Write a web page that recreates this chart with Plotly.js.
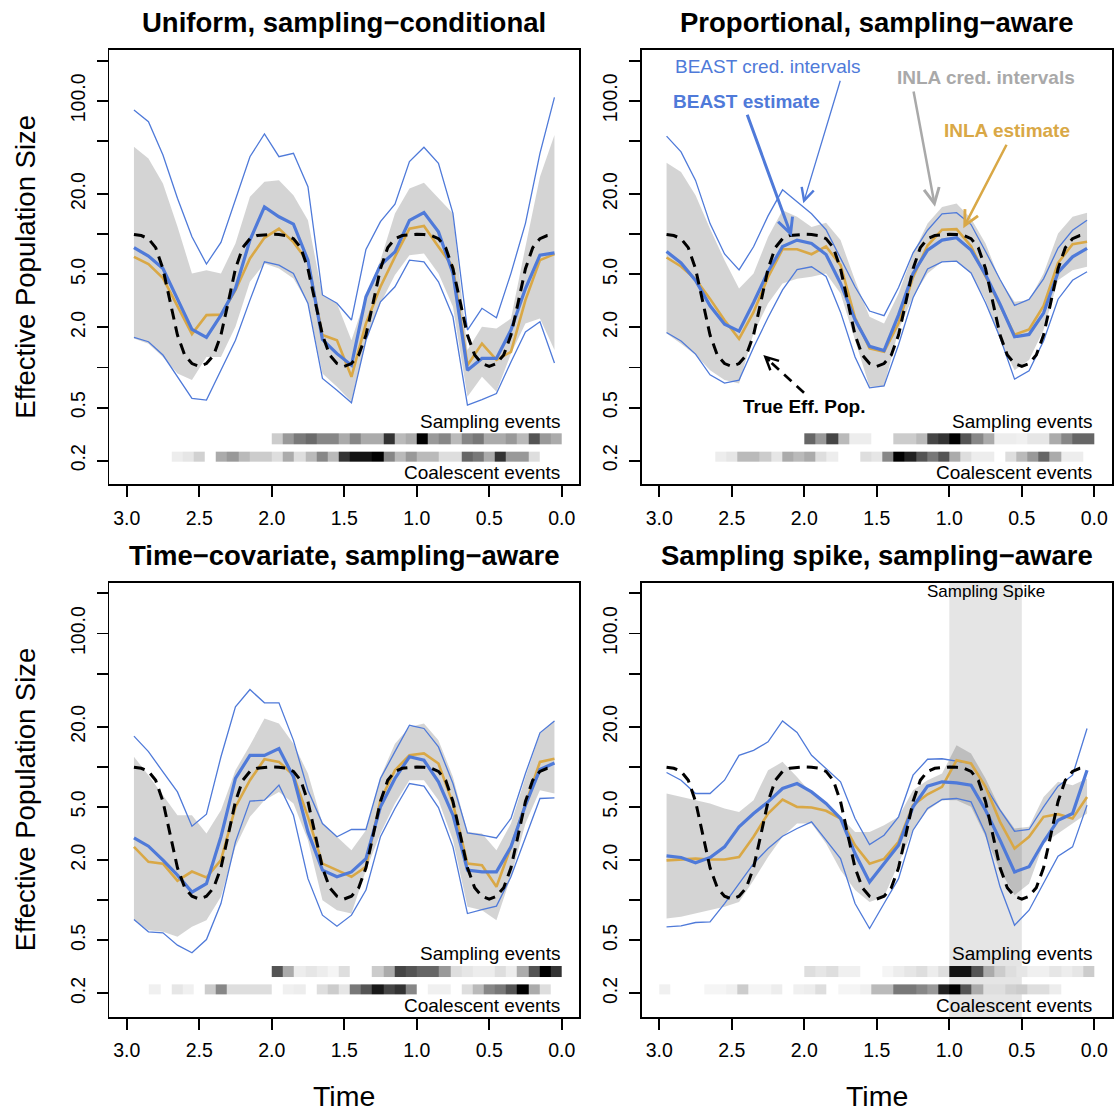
<!DOCTYPE html>
<html><head><meta charset="utf-8">
<script src="https://cdn.plot.ly/plotly-3.0.1.min.js"></script>
<style>html,body{margin:0;padding:0;background:#fff;} #chart{width:1114px;height:1111px;}</style>
</head><body><div id="chart"></div>
<script>
// ---------------- DATA ----------------
const tGrid = [2.95,2.85,2.75,2.65,2.55,2.45,2.35,2.25,2.15,2.05,1.95,1.85,1.75,1.65,1.55,1.45,1.35,1.25,1.15,1.05,0.95,0.85,0.75,0.65,0.55,0.45,0.35,0.25,0.15,0.05];

const tTrue = [2.95,2.9,2.85,2.8,2.75,2.7,2.65,2.6,2.55,2.5,2.45,2.4,2.35,2.3,2.25,2.2,2.15,2.1,2.05,2.0,
               1.95,1.9,1.85,1.8,1.75,1.7,1.65,1.6,1.55,1.5,1.45,1.4,1.35,1.3,1.25,1.2,1.15,1.1,1.05,1.0,
               0.95,0.9,0.85,0.8,0.75,0.7,0.65,0.6,0.55,0.5,0.45,0.4,0.35,0.3,0.25,0.2,0.15,0.1,0.05];
const trueNe = [9.93,9.76,9.25,7.92,5.5,3.08,1.75,1.24,1.07,1.02,1.07,1.24,1.75,3.08,5.5,7.92,9.25,9.76,9.93,9.98,
                9.93,9.76,9.25,7.92,5.5,3.08,1.75,1.24,1.07,1.02,1.07,1.24,1.75,3.08,5.5,7.92,9.25,9.76,9.93,9.98,
                9.93,9.76,9.25,7.92,5.5,3.08,1.75,1.24,1.07,1.02,1.07,1.24,1.75,3.08,5.5,7.92,9.25,9.76,9.93];

// event-density strip cells (edges, then one value per cell, null = no events)
const cellEdges = [3.0,2.923,2.846,2.769,2.692,2.615,2.538,2.462,2.385,2.308,2.231,2.154,2.077,2.0,1.923,1.846,1.769,1.692,1.615,1.538,
                   1.462,1.385,1.308,1.231,1.154,1.077,1.0,0.923,0.846,0.769,0.692,0.615,0.538,0.462,0.385,0.308,0.231,0.154,0.077,0.0];

// Panel 1: Uniform, sampling-conditional
const p1BeastHi  = [85.3,69.7,39.2,18.6,9.57,5.97,8.68,18.0,38.1,56.4,38.1,40.4,22.7,3.50,3.03,2.27,7.69,12.4,16.8,35.0,44.8,34.0,14.3,1.91,2.78,2.36,5.08,12.05,40.4,106];
const p1BeastLo  = [1.68,1.56,1.24,0.851,0.586,0.569,0.955,1.60,3.20,6.20,5.85,5.07,3.02,0.827,0.676,0.543,1.60,3.11,4.03,6.38,6.20,4.39,2.40,0.522,0.575,0.638,1.10,1.85,2.20,1.08];
const p1BeastMed = [7.94,6.84,5.53,3.29,1.93,1.68,2.47,3.91,9.02,16.0,13.5,11.9,6.38,1.62,1.27,1.04,3.39,5.85,7.37,12.7,14.5,10.4,5.07,0.955,1.17,1.17,1.91,3.91,6.96,7.24];
const p1InlaMed  = [6.76,5.96,4.68,2.85,1.78,2.47,2.49,3.8,6.57,9.39,11.0,8.71,6.2,1.75,1.60,0.851,2.14,4.03,6.76,11.0,11.5,8.04,5.69,1.04,1.51,1.14,1.31,3.20,6.38,7.08];
const p1InlaHi   = [45.2,36.9,24.0,11.4,5.07,5.37,5.07,8.51,19.1,24.7,25.4,19.6,12.7,3.48,3.02,1.60,3.39,6.38,14.3,22.0,24.3,18.5,14.3,1.35,2.02,1.96,2.33,8.04,26.9,55.3];
const p1InlaLo   = [1.65,1.51,1.20,0.902,0.804,1.20,1.20,2.02,4.39,6.03,5.53,4.64,3.02,0.902,0.716,0.553,1.60,3.02,4.93,6.96,7.16,5.07,2.85,0.603,0.851,0.657,1.27,2.14,2.33,1.35];
const p1Samp = [null,null,null,null,null,null,null,null,null,null,null,null,null,
  0.2,0.4,0.52,0.58,0.47,0.47,0.33,0.47,0.33,0.33,0.8,0.27,0.33,1.0,0.4,0.47,0.27,0.47,0.53,0.33,0.33,0.4,0.27,0.67,0.4,0.33];
const p1Coal = [null,null,null,null,
  0.07,0.1,0.18,null,0.33,0.4,0.27,0.2,0.2,0.13,0.33,0.13,0.27,0.47,0.27,0.8,0.93,0.93,1.0,0.47,0.27,0.4,0.27,0.27,0.13,0.13,0.6,0.53,0.33,0.8,0.4,0.4,0.13,
  null,null];

// Panel 2: Proportional, sampling-aware
const p2BeastHi  = [54.3,41.4,25.3,12.0,7.10,5.40,8.04,13.7,21.5,17.6,14.2,10.8,6.6,4.03,2.65,2.45,3.98,7.24,10.7,14.2,14.5,11.8,7.41,4.57,2.92,3.24,4.62,7.86,10.7,12.7];
const p2BeastLo  = [1.83,1.58,1.26,0.881,0.763,0.804,1.41,2.37,3.82,5.43,5.69,4.82,2.60,1.20,0.704,0.728,1.48,3.33,5.49,6.20,6.27,5.11,3.06,1.68,0.818,0.944,1.58,3.25,4.51,5.22];
const p2BeastMed = [7.4,6.09,4.49,2.90,2.11,1.87,3.07,5.24,8.09,9.02,8.51,7.04,4.27,2.28,1.44,1.34,2.48,5.07,7.59,9.02,9.39,7.59,4.95,2.98,1.70,1.77,2.56,5.16,6.76,7.82];
const p2InlaMed  = [6.68,5.72,4.59,3.27,2.26,1.64,2.60,4.76,7.71,7.71,7.07,8.09,5.85,2.36,1.39,1.31,2.15,4.76,8.22,10.8,10.9,8.13,4.81,2.87,1.76,1.93,2.90,6.09,8.40,8.76];
const p2InlaHi   = [34.3,29.3,19.6,11.0,6.38,3.91,5.07,9.50,15.1,13.5,11.3,12.2,9.02,4.51,2.40,2.14,3.59,7.16,12.0,16.0,17.0,13.1,8.51,4.51,3.11,3.20,5.07,10.1,13.5,14.5];
const p2InlaLo   = [1.80,1.51,1.24,0.955,0.804,0.759,1.80,3.02,4.27,4.62,4.79,5.07,3.59,1.60,0.716,0.716,1.91,3.39,5.07,6.20,6.20,5.07,3.20,1.60,0.955,1.14,1.91,4.51,5.37,5.69];
const p2Samp = [null,null,null,null,null,null,null,null,null,null,null,null,null,
  0.6,0.4,0.73,0.27,0.07,0.07,null,null,0.2,0.2,0.27,0.73,0.8,1.0,0.67,0.47,0.33,0.07,0.07,0.06,0.1,0.1,0.33,0.47,0.6,0.6];
const p2Coal = [null,null,null,null,null,
  0.07,0.1,0.27,0.27,0.2,0.1,0.33,0.27,0.33,0.13,0.07,null,null,0.13,0.1,0.47,1.0,0.87,0.67,0.53,0.67,0.33,0.13,0.07,0.07,null,0.13,0.27,0.4,0.6,0.33,0.07,0.07,
  null];

// Panel 3: Time-covariate, sampling-aware
const p3BeastHi  = [17.0,13.0,9.17,6.49,3.59,4.42,11.9,28.2,38.0,30.2,30.2,15.8,6.68,3.76,2.99,3.39,3.39,8.18,13.0,20.5,19.4,14.1,7.50,3.20,3.07,2.93,4.10,8.91,18.0,22.1];
const p3BeastLo  = [0.716,0.579,0.569,0.460,0.403,0.507,0.944,2.74,5.53,5.62,7.29,4.34,1.45,0.772,0.638,0.772,1.19,2.99,4.87,7.50,7.16,4.95,2.51,0.794,0.851,0.902,1.50,2.99,5.79,5.85];
const p3BeastMed = [2.93,2.54,2.0,1.54,1.15,1.33,2.99,8.18,12.2,12.2,13.7,8.41,3.25,1.68,1.50,1.63,2.05,5.01,8.18,11.9,11.2,7.72,4.34,1.68,1.63,1.63,2.51,5.16,9.55,10.7];
const p3InlaMed  = [2.51,1.94,1.88,1.40,1.64,1.48,2.0,5.0,7.94,11.4,10.9,8.66,4.22,1.88,1.68,1.50,1.78,5.62,9.44,12.2,12.6,10.6,5.30,1.88,1.83,1.26,2.51,5.30,10.9,11.5];
const p3InlaHi   = [11.9,8.66,6.13,4.34,4.34,3.16,4.73,9.44,14.5,23.0,21.1,14.9,8.91,3.76,2.99,2.37,3.35,8.41,14.9,19.9,21.1,15.8,8.41,3.25,3.16,2.37,3.76,8.41,17.8,22.4];
const p3InlaLo   = [0.708,0.596,0.579,0.531,0.631,0.708,1.06,2.51,4.22,5.62,6.49,5.30,2.82,1.0,0.841,0.794,1.68,3.16,5.30,7.94,7.94,5.62,2.82,0.891,0.841,0.708,1.50,3.76,6.68,6.31];
const p3Samp = [null,null,null,null,null,null,null,null,null,null,null,null,null,
  0.67,0.33,0.07,0.1,0.07,0.04,0.13,null,null,0.2,0.33,0.73,0.67,0.6,0.6,0.4,0.13,0.1,0.07,0.07,0.13,0.07,0.33,0.67,1.0,0.8];
const p3Coal = [null,null,
  0.06,null,0.1,0.06,null,0.2,0.47,0.13,0.13,0.13,0.13,null,0.06,0.07,null,0.13,0.2,0.1,0.53,0.67,0.9,0.73,0.8,0.47,null,0.06,0.06,null,0.13,0.27,0.47,0.53,0.67,1.0,0.33,0.13,
  null];

// Panel 4: Sampling spike, sampling-aware
const p4BeastHi  = [9.07,7.94,6.31,6.31,7.94,12.2,13.3,15.4,22.1,18.1,12.2,9.72,7.72,4.10,2.61,3.07,4.22,8.66,11.4,11.5,11.1,10.6,7.08,4.73,3.29,3.39,5.01,7.16,8.66,19.4];
const p4BeastLo  = [0.631,0.642,0.680,0.688,0.944,1.33,1.88,2.44,3.02,3.45,3.87,2.82,2.05,0.944,0.613,0.944,1.45,3.35,4.87,5.69,5.79,5.46,3.16,1.26,0.649,0.841,1.33,2.14,2.51,5.16];
const p4BeastMed = [2.15,2.09,1.91,2.09,2.51,3.55,4.47,5.46,6.88,7.50,6.49,5.31,4.10,2.24,1.37,1.88,2.58,5.01,7.16,7.72,7.58,7.29,4.73,2.82,1.63,1.78,2.74,3.98,4.47,9.44];
const p4InlaMed  = [1.99,2.02,2.05,2.02,2.02,2.11,2.99,4.47,5.69,5.01,4.95,4.68,4.10,2.58,1.88,2.04,2.74,5.16,6.23,7.08,11.2,10.6,7.08,3.87,2.44,2.99,4.22,4.42,4.10,5.95];
const p4InlaHi   = [6.31,5.95,5.62,5.30,4.87,4.59,5.62,9.44,10.9,8.41,6.31,5.30,4.22,3.25,3.25,3.65,4.22,6.68,7.94,8.91,14.5,12.6,8.18,4.87,3.45,3.55,5.95,7.72,7.29,8.18];
const p4InlaLo   = [0.729,0.750,0.794,0.841,0.891,0.971,1.41,2.11,2.99,3.76,3.76,2.66,1.68,1.19,0.971,1.06,1.88,3.35,4.73,5.62,5.62,5.01,2.99,1.68,1.09,1.33,2.66,3.16,3.76,4.47];
const p4Samp = [null,null,null,null,null,null,null,null,null,null,null,null,null,
  0.13,0.1,0.13,0.06,0.06,null,null,0.04,0.07,0.1,0.13,0.07,0.13,0.93,0.93,0.67,0.33,0.2,0.13,0.1,0.06,0.06,0.1,0.07,0.1,0.2];
const p4Coal = [0.06,null,null,null,0.04,0.04,0.06,0.2,0.04,0.04,0.07,null,0.06,0.07,0.13,null,0.04,0.04,0.06,0.27,0.27,0.53,0.53,0.47,0.4,0.87,1.0,0.67,0.33,0.13,0.13,0.18,0.2,0.13,0.13,0.07,
  null,null,null];

const panelTitles = ['Uniform, sampling\u2212conditional','Proportional, sampling\u2212aware','Time\u2212covariate, sampling\u2212aware','Sampling spike, sampling\u2212aware'];
const xTickVals = [3,2.5,2,1.5,1,0.5,0];
const xTickText = ['3.0','2.5','2.0','1.5','1.0','0.5','0.0'];
const yTickVals = [0.2,0.5,1,2,5,10,20,50,100,200];
const yTickText = ['0.2','0.5','','2.0','5.0','','20.0','','100.0',''];
const spikeStart = 1.0, spikeEnd = 0.5;

// ---------------- STYLE / LAYOUT ----------------
const FONT = '"Liberation Sans", Arial, Helvetica, sans-serif';
const W = 1114, H = 1111;
const BLUE = '#4f7ad9', GOLD = '#d9a846', BAND = 'rgba(0,0,0,0.17)', GREYTXT = '#a9a9a9';
const boxes = [
  {x0:109.3, x1:579.1, y0:50,    y1:484.3},
  {x0:641.9, x1:1111.7, y0:50,   y1:484.3},
  {x0:109.3, x1:579.1, y0:582.7, y1:1017.0},
  {x0:641.9, x1:1111.7, y0:582.7, y1:1017.0}];
const px = v => v / W, py = v => 1 - v / H;

const panels = [
  {hi:p1BeastHi, lo:p1BeastLo, med:p1BeastMed, im:p1InlaMed, ih:p1InlaHi, il:p1InlaLo, samp:p1Samp, coal:p1Coal},
  {hi:p2BeastHi, lo:p2BeastLo, med:p2BeastMed, im:p2InlaMed, ih:p2InlaHi, il:p2InlaLo, samp:p2Samp, coal:p2Coal},
  {hi:p3BeastHi, lo:p3BeastLo, med:p3BeastMed, im:p3InlaMed, ih:p3InlaHi, il:p3InlaLo, samp:p3Samp, coal:p3Coal},
  {hi:p4BeastHi, lo:p4BeastLo, med:p4BeastMed, im:p4InlaMed, ih:p4InlaHi, il:p4InlaLo, samp:p4Samp, coal:p4Coal}];

const traces = [];
const layout = {
  width: W, height: H, margin: {l:0, r:0, t:0, b:0},
  paper_bgcolor: '#fff', plot_bgcolor: 'rgba(0,0,0,0)',
  showlegend: false, font: {family: FONT, color: '#000'},
  annotations: [], shapes: []
};

const gray = [[0,'#ffffff'],[1,'#000000']];
panels.forEach((d, k) => {
  const i = k + 1;
  const xa = i === 1 ? 'x' : 'x' + i;
  const ya = i === 1 ? 'y' : 'y' + i;
  const yo = 'y' + (i + 4);
  const b = boxes[k];
  const common = {xaxis: xa, yaxis: ya, mode: 'lines', hoverinfo: 'skip'};

  traces.push(Object.assign({}, common, {
    x: tGrid.concat(tGrid.slice().reverse()),
    y: d.ih.concat(d.il.slice().reverse()),
    fill: 'toself', fillcolor: BAND, line: {width: 0}
  }));
  traces.push(Object.assign({}, common, {x: tGrid, y: d.hi, line: {color: BLUE, width: 1.3}}));
  traces.push(Object.assign({}, common, {x: tGrid, y: d.lo, line: {color: BLUE, width: 1.3}}));
  traces.push(Object.assign({}, common, {x: tGrid, y: d.im, line: {color: GOLD, width: 2.6}}));
  traces.push(Object.assign({}, common, {x: tGrid, y: d.med, line: {color: BLUE, width: 3.2}}));
  traces.push(Object.assign({}, common, {x: tTrue, y: trueNe, line: {color: '#000', width: 3, dash: '11px,7px'}}));

  // event strips
  traces.push({type: 'heatmap', xaxis: xa, yaxis: yo, x: cellEdges, y: [0.0928, 0.1174], z: [d.samp],
    colorscale: gray, zmin: 0, zmax: 1, showscale: false, hoverinfo: 'skip', zsmooth: false});
  traces.push({type: 'heatmap', xaxis: xa, yaxis: yo, x: cellEdges, y: [0.0520, 0.0751], z: [d.coal],
    colorscale: gray, zmin: 0, zmax: 1, showscale: false, hoverinfo: 'skip', zsmooth: false});

  const axKey = i === 1 ? 'xaxis' : 'xaxis' + i;
  const ayKey = i === 1 ? 'yaxis' : 'yaxis' + i;
  const axisCommon = {
    showgrid: false, zeroline: false, showline: true, mirror: true, linecolor: '#000', linewidth: 1.8,
    ticks: 'outside', ticklen: 11, tickwidth: 1.8, tickcolor: '#000',
    tickfont: {family: FONT, size: 19.5, color: '#000'}, fixedrange: true
  };
  layout[axKey] = Object.assign({}, axisCommon, {
    domain: [px(b.x0), px(b.x1)], anchor: ya, range: [3.12, -0.12],
    tickmode: 'array', tickvals: xTickVals, ticktext: xTickText, ticklabelstandoff: 4
  });
  layout[ayKey] = Object.assign({}, axisCommon, {
    domain: [py(b.y1), py(b.y0)], anchor: xa, type: 'log', range: [-0.876, 2.381],
    tickmode: 'array', tickvals: yTickVals, ticktext: yTickText, tickangle: -90, ticklabelstandoff: 4
  });
  layout['yaxis' + (i + 4)] = {overlaying: ya, anchor: xa, range: [0, 1], visible: false, fixedrange: true};

  // panel title
  layout.annotations.push({xref: 'paper', yref: 'paper', x: px((b.x0 + b.x1) / 2), y: py(b.y0 - 27.5),
    text: '<b>' + panelTitles[k] + '</b>', showarrow: false, xanchor: 'center', yanchor: 'middle',
    font: {family: FONT, size: 27.5, color: '#000'}});
  const xRight = b.x0 + 3.12 * 145;
  layout.annotations.push({xref: 'paper', yref: 'paper', x: px(xRight), y: py(b.y0 + 371.1),
    text: 'Sampling events', showarrow: false, xanchor: 'right', yanchor: 'middle',
    font: {family: FONT, size: 19, color: '#000'}});
  layout.annotations.push({xref: 'paper', yref: 'paper', x: px(xRight), y: py(b.y0 + 422.7),
    text: 'Coalescent events', showarrow: false, xanchor: 'right', yanchor: 'middle',
    font: {family: FONT, size: 19, color: '#000'}});
  if (k % 2 === 0) {
    layout.annotations.push({xref: 'paper', yref: 'paper', x: px(25.5), y: py((b.y0 + b.y1) / 2),
      text: 'Effective Population Size', textangle: -90, showarrow: false, xanchor: 'center', yanchor: 'middle',
      font: {family: FONT, size: 27.5, color: '#000'}});
  }
  if (k >= 2) {
    layout.annotations.push({xref: 'paper', yref: 'paper', x: px((b.x0 + b.x1) / 2), y: py(1096),
      text: 'Time', showarrow: false, xanchor: 'center', yanchor: 'middle',
      font: {family: FONT, size: 28.5, color: '#000'}});
  }
});

// sampling spike band (panel 4)
layout.shapes.push({type: 'rect', xref: 'x4', yref: 'y4 domain', x0: spikeStart, x1: spikeEnd, y0: 0, y1: 1,
  fillcolor: '#e5e5e5', line: {width: 0}, layer: 'below'});
layout.annotations.push({xref: 'x4', yref: 'paper', x: (spikeStart + spikeEnd) / 2, y: py(591.4),
  text: 'Sampling Spike', showarrow: false, xanchor: 'center', yanchor: 'middle',
  font: {family: FONT, size: 17, color: '#000'}});

// legend-like labels and arrows in panel 2
const lab = (text, xc, yc, color, bold) => layout.annotations.push({xref: 'paper', yref: 'paper',
  x: px(xc), y: py(yc), text: bold ? '<b>' + text + '</b>' : text, showarrow: false,
  xanchor: 'center', yanchor: 'middle', font: {family: FONT, size: 19, color: color}});
lab('BEAST cred. intervals', 767.5, 66.7, BLUE, false);
lab('BEAST estimate', 746.5, 101.7, BLUE, true);
lab('INLA cred. intervals', 985.5, 77.4, GREYTXT, true);
lab('INLA estimate', 1007, 130.7, GOLD, true);
lab('True Eff. Pop.', 804, 406.7, '#000', true);

const arrow = (tx, ty, hx, hy, color, w, size) => layout.annotations.push({xref: 'paper', yref: 'paper',
  x: px(hx), y: py(hy), ax: tx - hx, ay: ty - hy, axref: 'pixel', ayref: 'pixel', text: '', showarrow: true,
  arrowhead: 5, arrowsize: size, arrowwidth: w, arrowcolor: color, standoff: 0, startstandoff: 0});
arrow(840.7, 79.3, 803.3, 203.3, BLUE, 1.3, 1.9);
arrow(746.7, 113.3, 791.7, 236.7, BLUE, 3, 1.0);
arrow(913.3, 90, 935, 206.7, '#a9a9a9', 2.5, 1.2);
arrow(1007.3, 143.3, 963.3, 228.3, GOLD, 2.5, 1.15);
// dashed arrow for "True Eff. Pop."
layout.shapes.push({type: 'line', xref: 'paper', yref: 'paper', x0: px(804), y0: py(392.7), x1: px(769), y1: py(360.5),
  line: {color: '#000', width: 2.7, dash: '10px,7px'}});
arrow(771.3, 362.4, 763.3, 355, '#000', 2.5, 1.0);

Plotly.newPlot('chart', traces, layout, {staticPlot: true, displayModeBar: false});
</script>
</body></html>
